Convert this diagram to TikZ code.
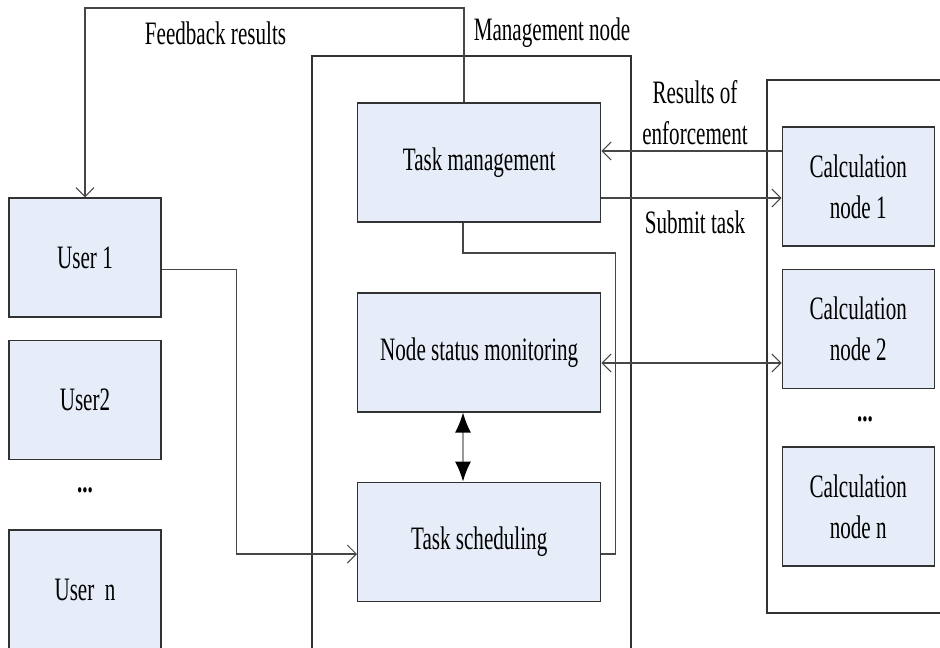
\documentclass[tikz,border=0pt]{standalone}
\usepackage{fontspec}
\setmainfont{Liberation Serif}[FakeStretch=0.645]
\usetikzlibrary{arrows.meta,calc}
\definecolor{boxfill}{RGB}{230,237,248}
\definecolor{edge}{RGB}{50,50,50}
\definecolor{wire}{RGB}{70,70,70}
\begin{document}
\begin{tikzpicture}[x=1pt,y=-1pt,
  every node/.style={font=\fontsize{32.7}{41}\selectfont, inner sep=0pt, text=black},
  blk/.style={draw=edge, line width=1.4pt, fill=boxfill, align=center},
  ublk/.style={blk, minimum width=152pt, minimum height=119pt},
  mblk/.style={blk, minimum width=243pt, minimum height=119pt},
  cblk/.style={blk, minimum width=152pt, minimum height=119pt},
  wireline/.style={draw=wire, line width=1.1pt},
  arr/.style={wireline, -{Straight Barb[length=9pt,width=18pt,line width=1pt]}},
  darr/.style={wireline, {Straight Barb[length=9pt,width=18pt,line width=1pt]}-{Straight Barb[length=9pt,width=18pt,line width=1pt]}},
  fat/.style={draw=gray!80, line width=1.5pt, {Latex[length=20pt,width=16pt,black]}-{Latex[length=20pt,width=16pt,black]}},
  frame/.style={draw=edge, line width=1.3pt}
]
\useasboundingbox (0,0) rectangle (940,648);

% containers
\draw[frame] (312,670) -- (312,56) -- (631,56) -- (631,670);
\draw[frame] (950,80) -- (767,80) -- (767,613) -- (950,613);

% user boxes
\node[ublk] (U1) at (85,257.5) {User 1};
\node[ublk] (U2) at (85,400) {User2};
\node (Udots) at (85,490) {\textbf{...}};
\node[ublk] (Un) at (85,589.5) {User\ \ n};

% management boxes
\node[mblk] (TM) at (479.2,162.5) {Task management};
\node[mblk] (NSM) at (479.2,352.3) {Node status monitoring};
\node[mblk] (TS) at (479.2,541.8) {Task scheduling};

% calculation nodes
\node[cblk] (C1) at (858.2,186.5) {Calculation\\node 1};
\node[cblk] (C2) at (858.2,329) {Calculation\\node 2};
\node (Cdots) at (865,419) {\textbf{...}};
\node[cblk] (Cn) at (858.2,506.5) {Calculation\\node n};

% labels
\node (lfb) at (215.5,33) {Feedback results};
\node (lmn) at (552,33) {Management node};
\node[align=center] (lre) at (695,113) {Results of\\enforcement};
\node (lst) at (695,222) {Submit task};

% coordinates for bends
\coordinate (fbTop) at (464,8);
\coordinate (bend1) at (236.7,400);
\coordinate (tmb) at (615.7,253);

% feedback
\draw[arr] ([xshift=-15.2pt]TM.north) -- ([xshift=-15.2pt]TM.north |- fbTop) -| (U1.north);
% user1 -> task scheduling
\draw[arr] ($(U1.east)+(0,11.8)$) -| (bend1) |- ($(TS.west)+(0,12.2)$);
% task management -> task scheduling
\draw[wireline] ([xshift=-16.2pt]TM.south) |- (tmb) |- ($(TS.east)+(0,12.2)$);
% NSM <-> TS
\draw[fat] ([xshift=-16.2pt]NSM.south) -- ([xshift=-16.2pt]TS.north);
% results of enforcement
\draw[arr] ($(C1.west)+(0,-35.5)$) coordinate (r1) -- (r1 -| TM.east);
% submit task
\draw[arr] ($(TM.east)+(0,35.5)$) coordinate (s1) -- (s1 -| C1.west);
% NSM <-> C2
\draw[darr] ($(NSM.east)+(0,10.7)$) coordinate (n1) -- (n1 -| C2.west);
\end{tikzpicture}
\end{document}
